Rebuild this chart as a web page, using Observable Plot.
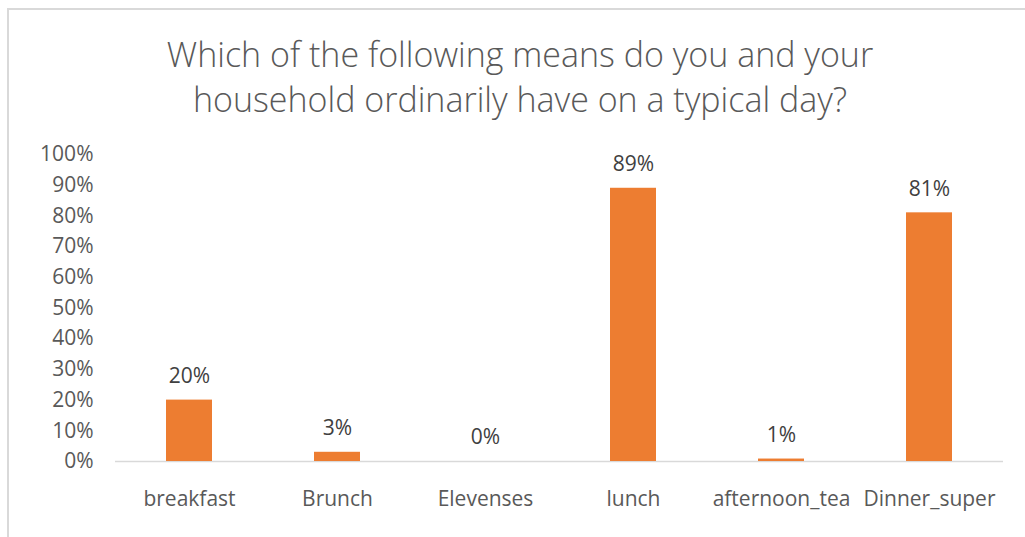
<!DOCTYPE html>
<html><head><meta charset="utf-8">
<script src="https://cdn.jsdelivr.net/npm/d3@7"></script>
<script src="https://cdn.jsdelivr.net/npm/@observablehq/plot@0.6"></script>
<style>
body{margin:0;background:#fff;font-family:"Open Sans",sans-serif;}
#frame{position:absolute;left:7px;top:8px;width:1030px;height:528px;border-left:2px solid #d9d9d9;border-top:2px solid #d9d9d9;}
#title{position:absolute;left:0;top:32px;width:1040px;text-align:center;font-size:34px;font-weight:300;line-height:45px;color:#595959;}
#chart{position:absolute;left:0;top:130px;}
</style></head><body>
<div id="frame"></div>
<div id="title">Which of the following means do you and your<br>household ordinarily have on a typical day?</div>
<div id="chart"></div>
<script>
const categories = ["breakfast","Brunch","Elevenses","lunch","afternoon_tea","Dinner_super"];
const values = [0.20, 0.03, 0.00, 0.89, 0.008, 0.81];
const yTicks = [0,0.1,0.2,0.3,0.4,0.5,0.6,0.7,0.8,0.9,1.0];
const data = categories.map((c,i)=>({meal:c, share:values[i]}));
const pct = v => Math.round(v*100) + "%";
const plot = Plot.plot({
  width:1025, height:400, marginTop:24, marginBottom:69, marginLeft:115, marginRight:22,
  style:{fontFamily:'"Open Sans", sans-serif', fontSize:"21px", color:"#595959", background:"transparent"},
  x:{domain:categories, paddingInner:0.69, paddingOuter:0.345, label:null},
  y:{domain:[0,1], label:null},
  marks:[
    Plot.axisY({ticks:yTicks, tickFormat:pct, tickSize:0, tickPadding:22, label:null}),
    Plot.axisX({tickSize:0, tickPadding:30, label:null}),
    Plot.ruleY([0], {stroke:"#d9d9d9", strokeWidth:1.5}),
    Plot.barY(data, {x:"meal", y:"share", fill:"#ED7D31"}),
    Plot.text(data, {x:"meal", y:"share", text:d=>pct(d.share), dy:-24, fill:"#404040"})
  ]
});
document.getElementById("chart").appendChild(plot);
</script>
</body></html>
